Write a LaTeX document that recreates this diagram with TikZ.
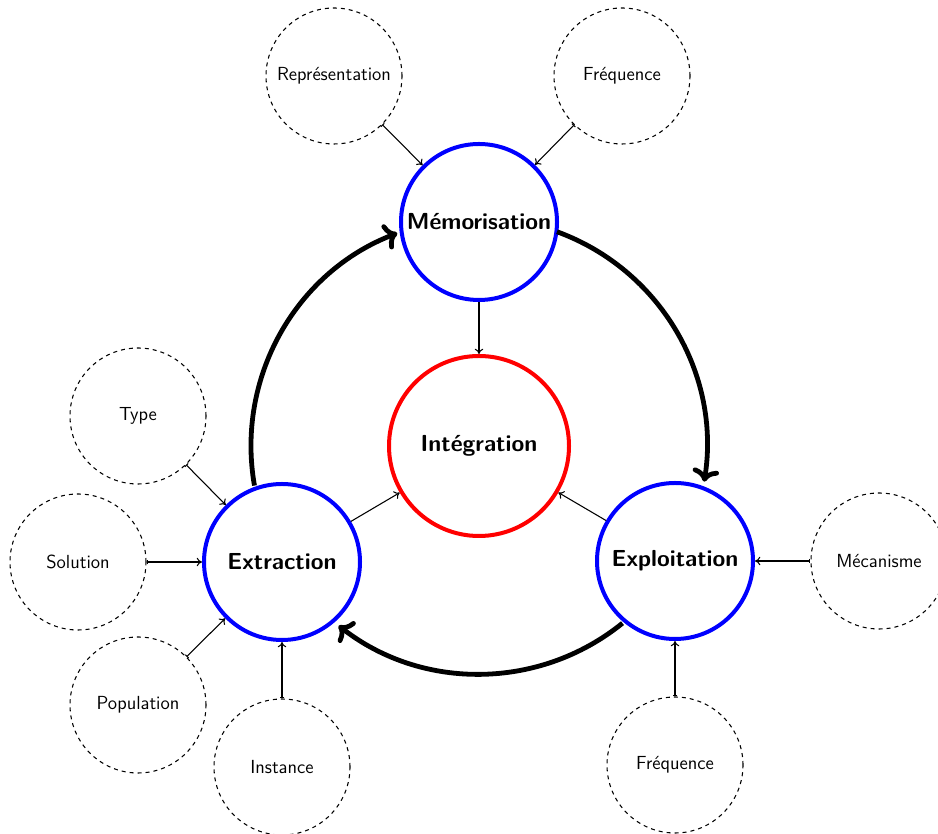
\documentclass[tikz,border=0pt]{standalone}
\usetikzlibrary{arrows.meta}
\begin{document}
\begin{tikzpicture}[x=0.75pt,y=0.75pt,
  main/.style={circle,draw=blue,line width=3pt,minimum size=117pt,inner sep=0pt,
    font=\fontsize{17.4}{20}\selectfont\sffamily\bfseries},
  centre/.style={circle,draw=red,line width=3pt,minimum size=135pt,inner sep=0pt,
    font=\fontsize{17.4}{20}\selectfont\sffamily\bfseries},
  aspect/.style={circle,draw,dashed,line width=0.8pt,minimum size=102pt,inner sep=0pt,
    font=\fontsize{14.2}{17}\selectfont\sffamily},
  feed/.style={{Bar[width=3.5pt]}-{To[length=4pt,width=6.5pt]},line width=0.8pt},
  link/.style={-{To[length=4pt,width=6.5pt]},line width=0.8pt},
  cycle/.style={->,line width=3.6pt}]
\useasboundingbox (0,0) rectangle (938,834);
\clip (0,0) rectangle (938,834);
\node[main] (mem) at (479,612) {Mémorisation};
\node[centre] (int) at (479,388) {Intégration};
\node[main] (ext) at (282,272) {Extraction};
\node[main] (exp) at (675,273) {Exploitation};
\node[aspect] (rep) at (334,758) {Représentation};
\node[aspect] (fr1) at (622,758) {Fréquence};
\node[aspect] (typ) at (138,418) {Type};
\node[aspect] (sol) at (78,272) {Solution};
\node[aspect] (pop) at (138,129) {Population};
\node[aspect] (ins) at (282,67) {Instance};
\node[aspect] (mec) at (879,273) {Mécanisme};
\node[aspect] (fr2) at (675,69) {Fréquence};
\draw[feed] (rep) -- (mem);
\draw[feed] (fr1) -- (mem);
\draw[feed] (typ) -- (ext);
\draw[feed] (sol) -- (ext);
\draw[feed] (pop) -- (ext);
\draw[feed] (ins) -- (ext);
\draw[feed] (mec) -- (exp);
\draw[feed] (fr2) -- (exp);
\draw[link] (mem) -- (int);
\draw[link] (ext) -- (int);
\draw[link] (exp) -- (int);
\draw[cycle] (int.center) ++(190:228) arc[start angle=190,end angle=111,radius=228];
\draw[cycle] (int.center) ++(70:228) arc[start angle=70,end angle=-9,radius=228];
\draw[cycle] (int.center) ++(-51:228) arc[start angle=-51,end angle=-128,radius=228];
\end{tikzpicture}
\end{document}
